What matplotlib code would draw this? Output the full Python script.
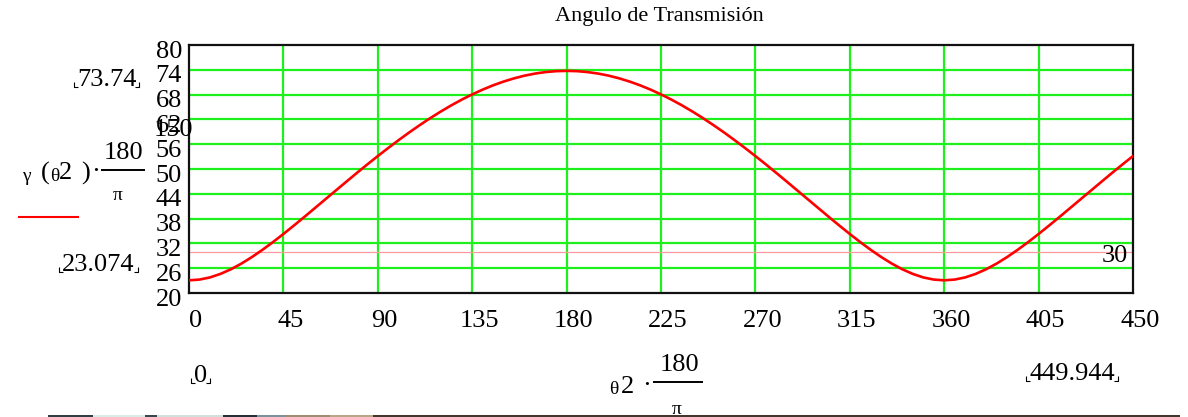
import matplotlib
matplotlib.use("Agg")
import matplotlib.pyplot as plt
from matplotlib.lines import Line2D
from matplotlib.transforms import ScaledTranslation

# Crank angle theta2 (degrees)
theta2_deg = [0, 5, 10, 15, 20, 25, 30, 35, 40, 45, 50, 55, 60, 65, 70, 75,
              80, 85, 90, 95, 100, 105, 110, 115, 120, 125, 130, 135, 140,
              145, 150, 155, 160, 165, 170, 175, 180, 185, 190, 195, 200,
              205, 210, 215, 220, 225, 230, 235, 240, 245, 250, 255, 260,
              265, 270, 275, 280, 285, 290, 295, 300, 305, 310, 315, 320,
              325, 330, 335, 340, 345, 350, 355, 360, 365, 370, 375, 380,
              385, 390, 395, 400, 405, 410, 415, 420, 425, 430, 435, 440,
              445, 449.944]
# Transmission angle gamma (degrees)
gamma_deg = [23.07, 23.25, 23.77, 24.62, 25.75, 27.12, 28.70, 30.44, 32.31,
             34.28, 36.32, 38.41, 40.54, 42.67, 44.80, 46.93, 49.04, 51.11,
             53.13, 55.10, 57.01, 58.86, 60.62, 62.31, 63.90, 65.39, 66.78,
             68.05, 69.21, 70.25, 71.16, 71.94, 72.59, 73.09, 73.45, 73.67,
             73.74, 73.67, 73.45, 73.09, 72.59, 71.94, 71.16, 70.25, 69.21,
             68.05, 66.78, 65.39, 63.90, 62.31, 60.62, 58.86, 57.01, 55.10,
             53.13, 51.11, 49.04, 46.93, 44.80, 42.67, 40.54, 38.41, 36.32,
             34.28, 32.31, 30.44, 28.70, 27.12, 25.75, 24.62, 23.77, 23.25,
             23.07, 23.25, 23.77, 24.62, 25.75, 27.12, 28.70, 30.44, 32.31,
             34.28, 36.32, 38.41, 40.54, 42.67, 44.80, 46.93, 49.04, 51.11,
             53.11]

x_ticks = [0, 45, 90, 135, 180, 225, 270, 315, 360, 405, 450]
y_ticks = [20, 26, 32, 38, 44, 50, 56, 62, 68, 74, 80]
marker_value = 30
y_max_label = "73.74"
y_min_label = "23.074"
x_min_label = "0"
x_max_label = "449.944"
title_text = "Angulo de Transmisión"

W, H = 1188, 417
SERIF = ["Liberation Serif", "DejaVu Serif"]
plt.rcParams["font.family"] = SERIF

fig = plt.figure(figsize=(W / 100, H / 100), dpi=100)
fig.patch.set_facecolor("white")


def fx(x):
    return x / W


def fy(y):
    return 1 - y / H


def ftext(x, y, s, size=19, ha="left", va="center", **kw):
    return fig.text(fx(x), fy(y), s, fontsize=size, ha=ha, va=va,
                    family=SERIF, color="black", **kw)


def fline(xs, ys, color="black", lw=1.0):
    fig.add_artist(Line2D([fx(v) for v in xs], [fy(v) for v in ys],
                          transform=fig.transFigure, color=color, lw=lw,
                          solid_capstyle="butt"))


def shift(dx_px, dy_px):
    return ScaledTranslation(dx_px / 100, dy_px / 100, fig.dpi_scale_trans)


ax_l, ax_t, ax_r, ax_b = 189, 45, 1133, 293
ax = fig.add_axes([fx(ax_l), fy(ax_b), (ax_r - ax_l) / W, (ax_b - ax_t) / H])
ax.set_xlim(0, 450)
ax.set_ylim(20, 80)

green = "#1ef01e"
for xv in x_ticks[1:-1]:
    ax.axvline(xv, color=green, lw=1.6, zorder=1)
for yv in y_ticks[1:-1]:
    ax.axhline(yv, color=green, lw=1.6, zorder=1)

ax.axhline(marker_value, color="#ff9a9a", lw=0.9, zorder=2)
ax.plot(theta2_deg, gamma_deg, color="#ff0000", lw=1.9, zorder=3)
ax.text(0.995, marker_value, str(marker_value),
        transform=ax.get_yaxis_transform() + shift(0, -4),
        ha="right", va="center", fontsize=19, family=SERIF)

for sp in ax.spines.values():
    sp.set_color("#111111")
    sp.set_linewidth(1.6)

ax.set_xticks(x_ticks)
ax.set_xticklabels([str(v) for v in x_ticks])
ax.set_yticks(y_ticks)
ax.set_yticklabels([str(v) for v in y_ticks])
ax.tick_params(axis="both", length=0, labelsize=19)
ax.tick_params(axis="x", pad=12)
ax.tick_params(axis="y", pad=5)
for lab in ax.get_xticklabels():
    lab.set_transform(lab.get_transform() + shift(7, 0))
for lab in ax.get_yticklabels():
    lab.set_transform(lab.get_transform() + shift(0, -4))

# Title
ftext(659, 17, title_text, size=16, ha="center")

# Stray overlapping label near the 62 tick
ftext(193, 130, "150", ha="right")

# y-range labels with corner brackets
t_max = ftext(77, 80, y_max_label)
t_min = ftext(62, 265, y_min_label)
# x-range labels with corner brackets
t_x0 = ftext(194, 376, x_min_label)
t_x1 = ftext(1029, 374, x_max_label)

# y-axis expression: gamma(theta2)*180/pi
ftext(22, 176, "γ", size=14)
ftext(41, 173, "(", size=19)
ftext(50, 176, "θ", size=14)
ftext(59, 173, "2", size=19)
ftext(81, 173, ")", size=19)
ftext(91, 172, "·", size=19)
fline([101, 145], [170, 170], lw=1.4)
ftext(123, 153, "180", ha="center")
ftext(118, 195, "π", size=14, ha="center")

# legend swatch for the red trace
fline([18, 79], [217, 217], color="#ff0000", lw=1.5)

# x-axis expression: theta2*180/pi
ftext(609, 390, "θ", size=14)
ftext(621, 387, "2", size=19)
ftext(642, 386, "·", size=19)
fline([653, 703], [382, 382], lw=1.4)
ftext(679, 365, "180", ha="center")
ftext(677, 409, "π", size=14, ha="center")

# corner brackets around the range labels
fig.canvas.draw()
renderer = fig.canvas.get_renderer()
for t in (t_max, t_min, t_x0, t_x1):
    bb = t.get_window_extent(renderer)
    x0, x1 = bb.x0, bb.x1
    ybot = H - bb.y0 - 4
    fline([x0 - 3, x0 - 3, x0 + 1], [ybot - 5, ybot, ybot], lw=0.8)
    fline([x1 - 1, x1 + 3, x1 + 3], [ybot, ybot, ybot - 5], lw=0.8)

# thin coloured strip along the lower edge
strip = [(48, 93, "#2c3a40"), (93, 145, "#d8ece6"), (145, 157, "#33424a"),
         (157, 223, "#d0e0da"), (223, 257, "#1e2a33"), (257, 285, "#7a8e98"),
         (285, 330, "#9c8a70"), (330, 373, "#b8a484"), (373, 1180, "#3e3228")]
for a, b, c in strip:
    fline([a, b], [416, 416], color=c, lw=1.4)

fig.savefig("out.png", dpi=100, facecolor="white")
